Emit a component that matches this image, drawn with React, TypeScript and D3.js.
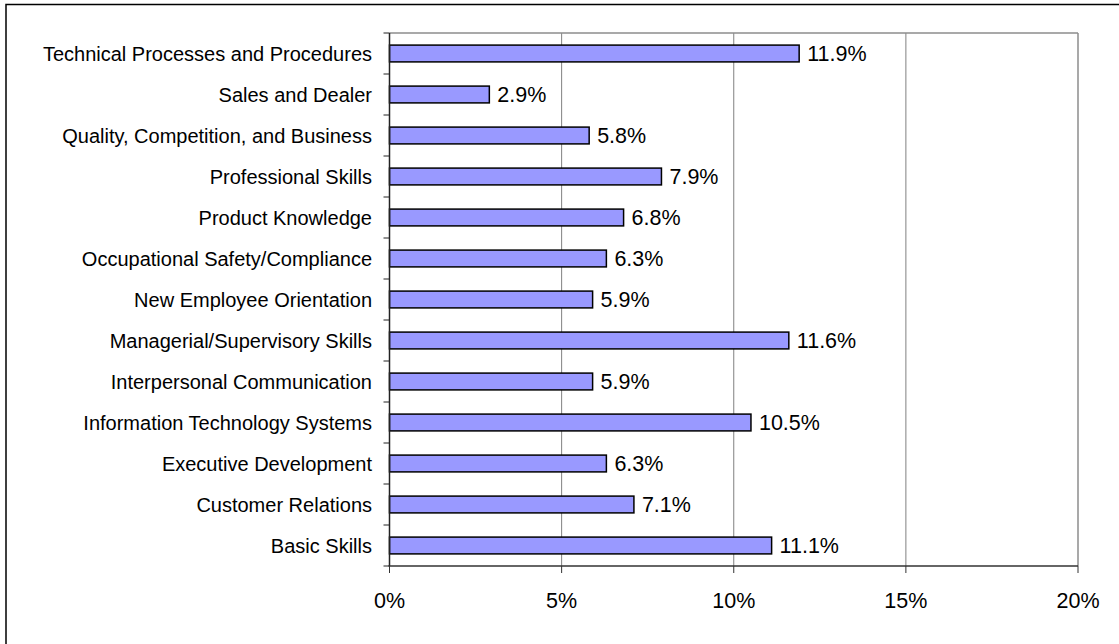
import React from "react";
import * as d3 from "d3";

const categories = [
  "Technical Processes and Procedures",
  "Sales and Dealer",
  "Quality, Competition, and Business",
  "Professional Skills",
  "Product Knowledge",
  "Occupational Safety/Compliance",
  "New Employee Orientation",
  "Managerial/Supervisory Skills",
  "Interpersonal Communication",
  "Information Technology Systems",
  "Executive Development",
  "Customer Relations",
  "Basic Skills",
];
const values = [11.9, 2.9, 5.8, 7.9, 6.8, 6.3, 5.9, 11.6, 5.9, 10.5, 6.3, 7.1, 11.1];
const xTicks = [0, 5, 10, 15, 20];

const W = 1119;
const H = 644;
const left = 389.5;
const right = 1078;
const top = 33;
const bottom = 566;
const font = "'Liberation Sans', Arial, sans-serif";

export default function App() {
  const x = d3.scaleLinear().domain([0, 20]).range([left, right]);
  const y = d3.scaleBand<string>().domain(categories).range([top, bottom]).paddingInner(0.59).paddingOuter(0.295);
  const band = (bottom - top) / categories.length;
  return (
    <svg width={W} height={H} style={{ position: "absolute", left: 0, top: 0, background: "#fff" }}>
      <rect x={6} y={4.5} width={1200} height={800} fill="#fff" stroke="#000" strokeWidth={1.5} />
      {xTicks.slice(1, -1).map((t) => (
        <line key={t} x1={x(t)} x2={x(t)} y1={top} y2={bottom} stroke="#808080" strokeWidth={1} />
      ))}
      <line x1={left} x2={right} y1={top} y2={top} stroke="#8c8c8c" strokeWidth={1.5} />
      <line x1={right} x2={right} y1={top} y2={bottom} stroke="#8c8c8c" strokeWidth={1.5} />
      {categories.map((c, i) => (
        <g key={c}>
          <rect x={x(0)} y={y(c)!} width={x(values[i]) - x(0)} height={y.bandwidth()} fill="#9999FF" stroke="#000" strokeWidth={1.5} />
          <text x={x(values[i]) + 8} y={y(c)! + y.bandwidth() / 2} dy="0.35em" fontFamily={font} fontSize={21.5} fill="#000">
            {values[i].toFixed(1)}%
          </text>
          <text x={372} y={y(c)! + y.bandwidth() / 2} dy="0.35em" textAnchor="end" fontFamily={font} fontSize={20} fill="#000">
            {c}
          </text>
        </g>
      ))}
      <line x1={left} x2={left} y1={top} y2={bottom} stroke="#222" strokeWidth={1.5} />
      <line x1={left - 1} x2={right} y1={bottom} y2={bottom} stroke="#333" strokeWidth={1.5} />
      {d3.range(categories.length + 1).map((k) => (
        <line key={k} x1={left - 6} x2={left} y1={top + band * k} y2={top + band * k} stroke="#222" strokeWidth={1} />
      ))}
      {xTicks.map((t) => (
        <g key={t}>
          <line x1={x(t)} x2={x(t)} y1={bottom} y2={bottom + 7} stroke="#333" strokeWidth={1} />
          <text x={x(t)} y={600} dy="0.35em" textAnchor="middle" fontFamily={font} fontSize={21.5} fill="#000">
            {t}%
          </text>
        </g>
      ))}
    </svg>
  );
}
